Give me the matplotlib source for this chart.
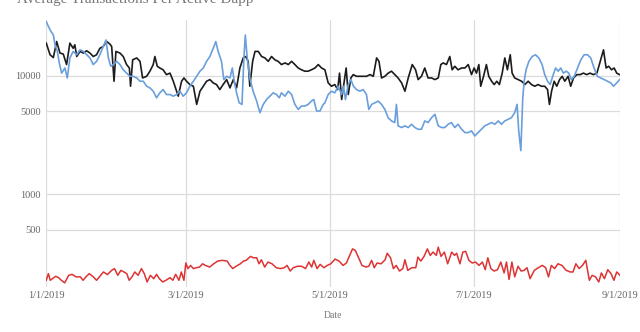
import matplotlib
matplotlib.use('Agg')
import matplotlib.pyplot as plt
import matplotlib.dates as mdates
from matplotlib.ticker import FixedLocator, NullLocator
import pandas as pd

# days since 1/1/2019 and average transactions per active dapp
black_days = [0, 1.6, 3.0, 4.4, 5.8, 7.2, 8.6, 10.0, 11.4, 12.1, 12.9, 14.3, 15.7, 17.1, 18.5, 19.9,
              21.3, 22.7, 24.1, 25.6, 27.0, 27.7, 28.7, 29.5, 31.2, 32.6, 34.0, 35.2, 35.7, 36.6, 38.3,
              39.7, 40.8, 42.5, 43.9, 45.3, 46.0, 47.0, 48.1, 49.5, 50.9, 52.4, 53.8, 55.2, 55.9, 57.3,
              58.3, 59.4, 60.8, 62.3, 63.7, 65.1, 66.5, 67.9, 69.3, 70.7, 72.1, 73.5, 74.9, 76.4, 77.8,
              79.2, 80.6, 82.0, 83.4, 84.5, 85.5, 86.2, 87.4, 88.4, 89.8, 91.2, 92.6, 94.0, 95.4, 96.8,
              98.2, 99.6, 101.1, 102.5, 103.9, 105.3, 106.7, 108.1, 109.5, 110.9, 112.3, 113.8, 115.2,
              116.6, 118.0, 119.4, 120.8, 122.2, 123.4, 124.2, 125.1, 126.2, 127.0, 127.9, 129.0, 130.0,
              131.4, 132.8, 134.2, 135.6, 137.1, 138.5, 139.9, 140.9, 142.0, 143.4, 144.8, 146.2, 147.6,
              149.0, 150.5, 151.9, 153.3, 155.0, 156.4, 157.5, 158.9, 160.3, 161.7, 163.2, 164.6, 166.0,
              167.1, 168.1, 169.5, 170.9, 171.9, 173.0, 174.4, 175.9, 177.3, 178.7, 180.1, 181.2, 182.2,
              183.2, 184.0, 185.2, 186.4, 187.4, 188.6, 189.7, 190.8, 191.9, 193.1, 194.2, 195.3, 196.5,
              197.3, 198.4, 199.9, 201.3, 202.7, 204.1, 205.5, 206.9, 208.3, 209.7, 211.1, 212.3, 213.1,
              214.0, 215.1, 216.2, 217.4, 218.5, 219.6, 221.0, 222.1, 223.3, 224.7, 226.1, 227.5, 228.9,
              230.3, 231.7, 233.2, 234.6, 236.0, 237.1, 238.2, 239.4, 240.5, 241.6, 242.8]
black_vals = [18800, 15000, 14200, 19400, 15500, 15200, 12400, 18800, 17000, 18200, 14500, 16000, 15500,
              16200, 15500, 14500, 15000, 17000, 17600, 19400, 18400, 17600, 8970, 16000, 15500, 14500,
              12400, 11600, 8140, 13600, 14100, 13200, 9560, 9870, 10900, 12400, 14500, 12000, 11600,
              11200, 10200, 10500, 8970, 7390, 6710, 8970, 9560, 8970, 8410, 8140, 5720, 7390, 8140, 8970,
              9260, 8680, 8410, 7630, 8410, 9260, 7880, 9260, 7880, 11600, 14100, 14500, 13200, 8140,
              13200, 16000, 16000, 14500, 14100, 13200, 14500, 13600, 13200, 12400, 12800, 12400, 13200,
              12400, 11600, 11200, 10900, 10900, 11200, 11600, 12400, 11600, 11200, 8680, 8140, 8410,
              7630, 10500, 6290, 8970, 11600, 6930, 9560, 10200, 9870, 9870, 9870, 9870, 10200, 9870,
              14100, 13200, 9560, 9870, 10500, 10900, 10200, 9560, 8680, 7390, 9560, 12400, 11200, 9260,
              9870, 11600, 9560, 9560, 9260, 9560, 12400, 12800, 12400, 14500, 11200, 12000, 11200, 11600,
              11600, 12400, 10200, 11600, 10500, 12400, 8140, 9870, 12400, 9870, 8970, 8410, 8970, 8410,
              10500, 14100, 11200, 15000, 10500, 9560, 9260, 8970, 8410, 8970, 8410, 8140, 8410, 8140,
              8140, 7630, 5720, 7390, 8970, 8140, 9260, 9870, 8970, 9870, 8140, 9560, 10200, 10200, 10500,
              10200, 10500, 10200, 10500, 13200, 16500, 11600, 12000, 11200, 11600, 10500, 10200]

blue_days = [0, 1.6, 3.0, 3.7, 4.7, 5.5, 6.5, 7.9, 8.9, 10.0, 11.4, 12.9, 14.3, 15.7, 17.1, 18.5, 19.9,
             21.3, 22.7, 24.1, 25.3, 26.3, 27.3, 28.4, 29.8, 31.2, 32.6, 34.0, 35.4, 36.8, 38.3, 39.7,
             41.1, 42.5, 43.9, 45.3, 46.7, 48.1, 49.5, 50.9, 52.4, 53.8, 55.2, 56.6, 58.0, 59.4, 60.8,
             62.3, 63.7, 65.1, 66.5, 67.9, 69.3, 70.7, 71.8, 72.8, 74.2, 75.2, 76.4, 77.8, 78.8, 79.6,
             80.6, 81.7, 82.9, 83.7, 84.3, 85.1, 86.2, 87.6, 89.1, 90.5, 91.9, 93.3, 94.7, 96.1, 97.5,
             98.7, 99.6, 101.1, 102.5, 103.9, 105.3, 106.7, 108.1, 109.5, 110.9, 112.3, 113.3, 114.5,
             115.9, 117.3, 118.0, 119.4, 120.8, 122.2, 123.6, 125.1, 125.9, 126.7, 127.9, 129.0, 130.1,
             131.4, 132.8, 134.2, 135.6, 136.6, 137.8, 139.2, 140.6, 142.0, 143.4, 144.8, 146.2, 147.6,
             148.3, 149.0, 150.5, 151.9, 153.3, 154.7, 156.1, 157.5, 158.9, 160.3, 161.7, 163.2, 164.6,
             166.0, 167.4, 168.8, 170.2, 171.6, 173.0, 174.4, 175.9, 177.3, 178.7, 180.1, 181.5, 182.9,
             184.3, 185.7, 187.1, 188.6, 190.0, 191.4, 192.8, 194.2, 195.6, 197.0, 198.4, 199.4, 200.1,
             201.0, 201.8, 202.4, 203.2, 204.4, 205.8, 207.2, 208.6, 210.0, 211.1, 212.3, 213.4, 214.5,
             215.7, 216.8, 217.9, 219.0, 220.2, 221.3, 222.4, 223.6, 225.0, 226.4, 227.8, 229.2, 230.6,
             232.0, 233.4, 234.9, 236.3, 237.7, 239.1, 240.2, 241.6, 242.8]
blue_vals = [28500, 24300, 22000, 18200, 16000, 12800, 10500, 11600, 9560, 14100, 16000, 15000, 16500,
             16000, 15000, 14100, 12400, 13200, 15000, 17600, 20000, 14100, 12000, 12400, 13200, 12400,
             11200, 10500, 9870, 9870, 9560, 8970, 8970, 8140, 7880, 7390, 6500, 7160, 7630, 6930, 6930,
             6710, 6930, 7390, 6710, 7160, 8140, 8970, 9870, 10900, 11600, 13200, 14500, 17000, 19400,
             16000, 13200, 9260, 9870, 9560, 11600, 8970, 7160, 5900, 5720, 14100, 22000, 14100, 9560,
             7390, 6100, 4870, 5720, 6290, 6710, 7160, 6930, 6500, 7160, 6710, 7390, 6930, 5720, 5190,
             5540, 5540, 5720, 6100, 6290, 5030, 5030, 5720, 5900, 6930, 7390, 7160, 8140, 6930, 8140,
             6290, 8410, 9260, 8140, 7630, 7390, 7630, 6930, 5190, 5720, 5900, 6100, 5720, 5190, 4420,
             4150, 4020, 5720, 3770, 3650, 3770, 3650, 3890, 3650, 3530, 3530, 4150, 4020, 4420, 4720,
             3770, 3650, 3650, 3890, 4020, 3650, 3890, 3530, 3310, 3310, 3420, 3100, 3310, 3530, 3770,
             3890, 4020, 3890, 4150, 3890, 4150, 4280, 4420, 4870, 5720, 3420, 2330, 6500, 8970, 11200,
             13200, 14500, 15000, 14100, 12400, 10200, 8970, 8410, 9870, 11600, 10900, 11600, 10500,
             10900, 10500, 9260, 9870, 11600, 13600, 15000, 15000, 14100, 11600, 9870, 9560, 9260, 8970,
             8680, 8140, 8680, 9260]

red_days = [0, 0.9, 1.7, 2.6, 4.0, 5.2, 6.4, 7.8, 9.5, 10.9, 12.6, 14.4, 15.6, 16.8, 18.2, 19.9, 21.3,
            22.5, 24.2, 25.9, 27.7, 28.9, 30.3, 31.6, 32.9, 34.1, 35.1, 36.3, 37.5, 38.9, 40.3, 41.5,
            42.7, 44.1, 45.5, 46.7, 47.9, 49.3, 50.7, 52.4, 53.6, 54.8, 56.2, 57.2, 58.3, 59.1, 60.0,
            61.1, 62.3, 63.5, 64.9, 66.2, 67.4, 69.2, 70.9, 72.6, 74.4, 76.6, 77.8, 79.0, 80.4, 82.2,
            83.5, 84.7, 86.5, 87.7, 89.1, 90.1, 91.1, 92.5, 93.9, 95.6, 97.4, 99.1, 100.8, 102.0, 103.3,
            104.6, 106.4, 108.1, 109.8, 111.2, 112.4, 113.3, 114.7, 116.0, 117.6, 119.0, 120.5, 122.3,
            124.0, 125.7, 127.1, 128.5, 129.7, 130.9, 132.3, 133.7, 135.4, 136.6, 137.8, 138.9, 140.1,
            141.8, 143.5, 144.4, 145.8, 147.0, 148.2, 149.6, 151.0, 151.9, 153.1, 154.8, 156.5, 157.4,
            158.6, 160.0, 161.4, 162.6, 163.8, 165.2, 166.0, 167.2, 168.6, 170.0, 171.7, 172.9, 173.8,
            175.2, 176.4, 177.6, 179.0, 180.4, 181.8, 183.3, 184.7, 185.9, 187.0, 188.3, 189.7, 191.1,
            192.5, 193.9, 194.9, 196.0, 197.2, 198.4, 199.8, 201.1, 202.4, 203.6, 204.9, 206.7, 208.4,
            210.1, 211.5, 212.7, 213.9, 215.3, 216.7, 218.4, 220.2, 221.9, 223.1, 224.3, 225.7, 227.1,
            228.5, 230.0, 231.2, 232.6, 234.0, 235.1, 236.4, 237.8, 239.2, 240.4, 241.6, 243.0]
red_vals = [188, 214, 188, 194, 203, 198, 188, 179, 207, 211, 201, 201, 188, 201, 214, 201, 188, 201,
            221, 210, 228, 236, 207, 228, 221, 214, 188, 201, 221, 207, 236, 214, 182, 207, 194, 211,
            194, 182, 188, 198, 188, 211, 188, 221, 188, 263, 236, 251, 236, 240, 243, 259, 251, 243,
            259, 273, 277, 273, 251, 236, 247, 259, 273, 277, 299, 291, 291, 259, 280, 243, 268, 259,
            240, 236, 240, 251, 225, 240, 247, 247, 236, 268, 243, 277, 236, 256, 240, 251, 259, 284,
            273, 251, 263, 305, 346, 335, 291, 251, 243, 247, 277, 240, 263, 259, 280, 318, 291, 236,
            251, 225, 236, 280, 228, 240, 240, 295, 273, 299, 346, 305, 325, 305, 358, 299, 325, 259,
            325, 305, 318, 259, 325, 330, 277, 263, 268, 251, 268, 231, 291, 236, 225, 231, 268, 217,
            268, 191, 268, 201, 247, 225, 228, 240, 194, 228, 240, 251, 240, 201, 251, 236, 259, 251,
            228, 221, 221, 259, 236, 251, 277, 188, 207, 201, 182, 217, 194, 231, 214, 188, 221, 207]

start = pd.Timestamp('2019-01-01')
tick_dates = ['2019-01-01', '2019-03-01', '2019-05-01', '2019-07-01', '2019-09-01']
tick_labels = ['1/1/2019', '3/1/2019', '5/1/2019', '7/1/2019', '9/1/2019']
y_ticks = [500, 1000, 5000, 10000]


def to_dates(days):
    return start + pd.to_timedelta(days, unit='D')


plt.rcParams['font.family'] = ['Liberation Serif', 'DejaVu Serif']

fig = plt.figure(figsize=(6.4, 3.32), dpi=100)
ax = fig.add_axes([0.0723, 0.1355, 0.8965, 0.8045])

ax.plot(to_dates(black_days), black_vals, color='#1c1c1c', lw=1.2, label='EOS')
ax.plot(to_dates(blue_days), blue_vals, color='#6a9fdc', lw=1.2, label='TRON')
ax.plot(to_dates(red_days), red_vals, color='#dd3333', lw=1.1, label='Ethereum')

ax.set_yscale('log')
ax.set_ylim(165, 29500)
ax.set_xlim(start, pd.Timestamp('2019-09-01'))

ax.yaxis.set_major_locator(FixedLocator(y_ticks))
ax.yaxis.set_minor_locator(NullLocator())
ax.set_yticklabels([str(v) for v in y_ticks])
ax.set_xticks(mdates.date2num(pd.to_datetime(tick_dates)))
ax.set_xticklabels(tick_labels)

ax.grid(True, color='#dcdcdc', lw=0.9)
ax.set_axisbelow(True)
for s in ax.spines.values():
    s.set_visible(False)
ax.tick_params(length=0, labelsize=7.5, labelcolor='#666666')
ax.tick_params(axis='y', pad=4)
ax.tick_params(axis='x', pad=3)
ax.set_xlabel('Date', fontsize=7, color='#777777', labelpad=8)

# title sits partly above the top edge
fig.text(0.027, 0.99, 'Average Transactions Per Active Dapp', fontsize=11, color='#777777',
         va='baseline', ha='left')

leg = fig.legend(loc='lower center', bbox_to_anchor=(0.5, -0.055), ncol=3, frameon=False,
                 fontsize=6.5, handlelength=1.5, columnspacing=3)
for t in leg.get_texts():
    t.set_color('#ececec')
for h in leg.get_lines():
    h.set_alpha(0.12)

fig.savefig('out.png', dpi=100)
